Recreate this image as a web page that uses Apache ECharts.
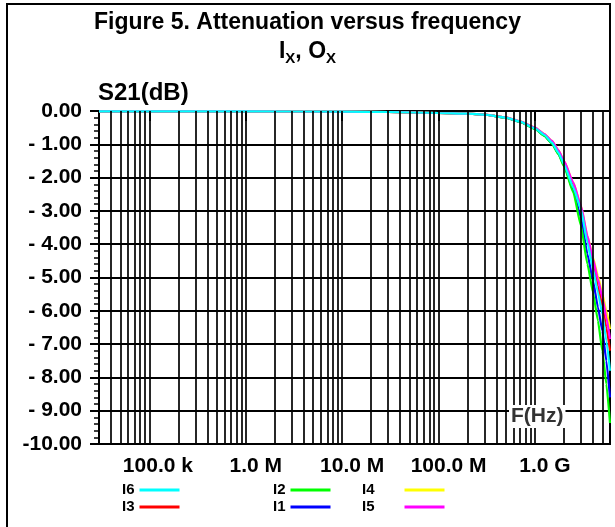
<!DOCTYPE html>
<html>
<head>
<meta charset="utf-8">
<script src="https://cdn.jsdelivr.net/npm/echarts@6/dist/echarts.min.js"></script>
<style>
html,body{margin:0;padding:0;background:#fff;}
#chart{width:615px;height:527px;}
</style>
</head>
<body>
<div id="chart"></div>
<script>
// ---- data ----
const freqHz = [3e4, 1e5, 1e6, 1e7, 3e7, 1e8, 2e8, 3e8, 5e8, 7e8, 1e9, 1.25e9, 1.5e9, 1.75e9, 2e9, 2.5e9, 3e9, 3.5e9, 4e9, 4.5e9, 5e9, 5.5e9, 6e9];
const I1 = [-0.01,-0.01,-0.01,-0.02,-0.03,-0.06,-0.08,-0.11,-0.20,-0.33,-0.53,-0.74,-0.97,-1.28,-1.63,-2.40,-3.20,-4.30,-5.10,-5.90,-6.60,-7.50,-8.60];
const I2 = [-0.01,-0.01,-0.01,-0.02,-0.03,-0.06,-0.08,-0.11,-0.20,-0.33,-0.54,-0.75,-0.98,-1.30,-1.66,-2.45,-3.45,-4.60,-5.45,-6.30,-7.20,-8.20,-9.37];
const I3 = [-0.01,-0.01,-0.01,-0.02,-0.03,-0.06,-0.08,-0.11,-0.20,-0.32,-0.51,-0.70,-0.92,-1.20,-1.53,-2.20,-2.90,-3.85,-4.60,-5.25,-5.85,-6.50,-7.20];
const I4 = [-0.01,-0.01,-0.01,-0.02,-0.03,-0.06,-0.08,-0.11,-0.19,-0.31,-0.50,-0.69,-0.90,-1.18,-1.50,-2.15,-2.85,-3.75,-4.40,-4.95,-5.50,-6.00,-6.55];
const I5 = [-0.01,-0.01,-0.01,-0.02,-0.03,-0.06,-0.08,-0.11,-0.19,-0.31,-0.50,-0.69,-0.90,-1.18,-1.50,-2.15,-2.85,-3.75,-4.45,-5.05,-5.60,-6.20,-6.85];
const I6 = [-0.01,-0.01,-0.01,-0.02,-0.03,-0.06,-0.08,-0.11,-0.20,-0.32,-0.52,-0.72,-0.95,-1.25,-1.60,-2.30,-2.95,-3.95,-4.75,-5.45,-6.10,-6.90,-7.80];

const xTickValues = [1e5, 1e6, 1e7, 1e8, 1e9];
const xTickNumbers = ['100.0', '1.0', '10.0', '100.0', '1.0'];
const xTickUnits = ['k', 'M', 'M', 'M', 'G'];
const yTickValues = [0, -1, -2, -3, -4, -5, -6, -7, -8, -9, -10];
const yTickLabels = ['0.00', '- 1.00', '- 2.00', '- 3.00', '- 4.00', '- 5.00', '- 6.00', '- 7.00', '- 8.00', '- 9.00', '-10.00'];

const xMin = 3e4, xMax = 6e9;

// vertical grid lines at 1..9 x 10^n inside the range
const gridFreqs = [];
for (let e = 4; e <= 9; e++) {
  for (let k = 1; k <= 9; k++) {
    const v = k * Math.pow(10, e);
    if (v > xMin && v < xMax) gridFreqs.push(v);
  }
}

const seriesDefs = [
  { name: 'I1', data: I1, color: '#0000ff' },
  { name: 'I3', data: I3, color: '#ff0000' },
  { name: 'I2', data: I2, color: '#00ff00' },
  { name: 'I4', data: I4, color: '#ffff00' },
  { name: 'I5', data: I5, color: '#ff00ff' },
  { name: 'I6', data: I6, color: '#00ffff' }
];

const FONT = 'Liberation Sans, Arial, sans-serif';
const LBL = 21;

const chart = echarts.init(document.getElementById('chart'), null, { renderer: 'canvas' });

const series = [{
  name: '__grid',
  type: 'line',
  data: [],
  z: 1,
  silent: true,
  markLine: {
    silent: true,
    symbol: 'none',
    animation: false,
    label: { show: false },
    lineStyle: { color: '#000', width: 1.7, type: 'solid' },
    emphasis: { disabled: true },
    data: gridFreqs.map(v => ({ xAxis: v }))
  }
}].concat(seriesDefs.map(s => ({
  name: s.name,
  type: 'line',
  z: 3,
  smooth: 0.15,
  smoothMonotone: 'x',
  showSymbol: false,
  symbol: 'none',
  color: s.color,
  lineStyle: { color: s.color, width: 2.2 },
  data: freqHz.map((f, i) => [f, s.data[i]]),
  animation: false
})));

function legendCol(names, left, top, padRight) {
  return {
    orient: 'vertical',
    left: left,
    top: top,
    padding: 0,
    align: 'right',
    itemWidth: 40,
    itemHeight: 3,
    itemGap: 1,
    icon: 'rect',
    selectedMode: false,
    data: names,
    textStyle: { fontFamily: FONT, fontSize: 15, fontWeight: 'bold', color: '#000', lineHeight: 16, padding: [0, padRight, 0, 0] }
  };
}

// width of the unit suffix (" k", " M", " G") so the number is centred on its tick
function unitPad(u) {
  const w = { k: 0.8, M: 0.95, G: 0.95 }[u] || 0;
  return Math.round(w * LBL);
}

chart.setOption({
  animation: false,
  backgroundColor: '#fff',
  title: {
    left: 'center',
    top: 3,
    text: 'Figure 5. Attenuation versus frequency\n{m|I}{s|X}{m|, O}{s|X}',
    textStyle: {
      fontFamily: FONT, fontSize: 23, fontWeight: 'bold', color: '#000', lineHeight: 29,
      rich: {
        m: { fontFamily: FONT, fontSize: 23, fontWeight: 'bold', color: '#000', lineHeight: 29 },
        s: { fontFamily: FONT, fontSize: 15, fontWeight: 'bold', color: '#000', lineHeight: 4, verticalAlign: 'bottom' }
      }
    }
  },
  legend: [
    legendCol(['I6', 'I3'], 122, 482, 0),
    legendCol(['I2', 'I1'], 273, 482, 0),
    legendCol(['I4', 'I5'], 362, 482, 25)
  ],
  grid: { left: 99, top: 111, width: 511, height: 333, show: true, borderColor: '#000', borderWidth: 2, containLabel: false },
  xAxis: {
    type: 'log',
    logBase: 10,
    min: xMin,
    max: xMax,
    axisLine: { show: true, lineStyle: { color: '#000', width: 2 } },
    splitLine: { show: false },
    axisTick: { show: true, customValues: xTickValues, length: 10, lineStyle: { color: '#000', width: 2 } },
    axisLabel: {
      customValues: xTickValues,
      margin: 12,
      fontFamily: FONT, fontSize: LBL, fontWeight: 'bold', color: '#000',
      rich: {
        t: { fontFamily: FONT, fontSize: LBL, fontWeight: 'bold', color: '#000' },
        pk: { width: unitPad('k') },
        pM: { width: unitPad('M') },
        pG: { width: unitPad('G') }
      },
      formatter: function (v) {
        for (let i = 0; i < xTickValues.length; i++) {
          if (Math.abs(Math.log10(v) - Math.log10(xTickValues[i])) < 1e-6) {
            return '{p' + xTickUnits[i] + '| }{t|' + xTickNumbers[i] + ' ' + xTickUnits[i] + '}';
          }
        }
        return '';
      }
    }
  },
  yAxis: {
    type: 'value',
    min: -10,
    max: 0,
    interval: 1,
    name: 'S21(dB)',
    nameLocation: 'end',
    nameGap: 6,
    nameTextStyle: { fontFamily: FONT, fontSize: 24, fontWeight: 'bold', color: '#000', align: 'left', verticalAlign: 'bottom', padding: [0, 0, 0, -1] },
    axisLine: { show: true, lineStyle: { color: '#000', width: 2 } },
    axisTick: { show: true, length: 9, lineStyle: { color: '#000', width: 2 } },
    minorTick: { show: true, splitNumber: 5, length: 5, lineStyle: { color: '#000', width: 1.5 } },
    splitLine: { show: true, lineStyle: { color: '#000', width: 2 } },
    axisLabel: {
      margin: 17,
      fontFamily: FONT, fontSize: LBL, fontWeight: 'bold', color: '#000',
      formatter: function (v) {
        const i = yTickValues.indexOf(Math.round(v));
        return i >= 0 ? yTickLabels[i] : '';
      }
    }
  },
  graphic: [
    {
      type: 'polyline',
      silent: true,
      z: -10,
      shape: { points: [[7, 540], [7, 4], [610, 4], [610, 111]] },
      style: { fill: 'none', stroke: '#000', lineWidth: 2 }
    },
    {
      type: 'text',
      silent: true,
      z: 100,
      left: 509,
      top: 405,
      style: {
        text: 'F(Hz)',
        fontFamily: FONT, fontSize: 21, fontWeight: 'bold', fill: '#333',
        backgroundColor: '#fff',
        padding: [1, 2, 1, 2]
      }
    }
  ],
  series: series
});
</script>
</body>
</html>
